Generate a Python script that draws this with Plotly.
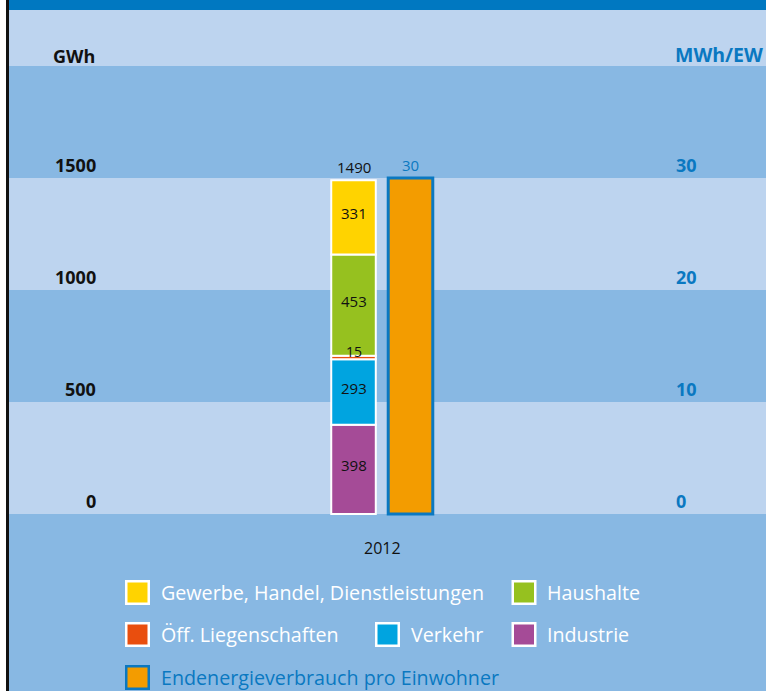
import plotly.graph_objects as go

# ---------------- data ----------------
year = "2012"
sectors = ["Industrie", "Verkehr", "Öff. Liegenschaften", "Haushalte",
           "Gewerbe, Handel, Dienstleistungen"]
gwh = [398, 293, 15, 453, 331]
sector_colors = ["#A54B97", "#00A4E0", "#E94E0E", "#96C11F", "#FFD300"]
per_capita_name = "Endenergieverbrauch pro Einwohner"
mwh_per_ew = [30]
per_capita_color = "#F39C00"
left_ticks = [0, 500, 1000, 1500]
right_ticks = [0, 10, 20, 30]
left_unit = "GWh"
right_unit = "MWh/EW"

# ---------------- style ----------------
W, H = 766, 691
FONT = "Open Sans"
LIGHT = "#BDD4EF"
DARK = "#88B8E3"
BLUE = "#0A78C1"
TEXT_DARK = "#111111"

# axis ranges (0 at 514px, 500 GWh per 112px)
y_per_px = 500 / 112
y_range = [-(H - 514) * y_per_px, 514 * y_per_px]
y2_range = [v / 50 for v in y_range]
x_per_px = 1 / 110
x_range = [-382 * x_per_px, (W - 382) * x_per_px]
bar_w = 0.405
stack_center = -0.259
pc_center = 0.259
small_segment = 50  # segments below this get their label placed above them


def px(x):
    return x / W


def py(y):
    return 1 - y / H


fig = go.Figure()

# stacked sector bar (explicit bases from cumulative sums)
bases = []
acc = 0
for v in gwh:
    bases.append(acc)
    acc += v
total = acc

annotations = []
for i in range(len(gwh)):
    inside = gwh[i] >= small_segment
    fig.add_trace(go.Bar(
        x=[year], y=[gwh[i]], base=[bases[i]], name=sectors[i],
        marker=dict(color=sector_colors[i], line=dict(color="white", width=2)),
        width=[bar_w], offset=[stack_center - bar_w / 2],
        showlegend=False, hoverinfo="skip",
    ))
    if inside:
        annotations.append(dict(x=stack_center, xref="x", y=bases[i] + gwh[i] / 2, yref="y",
                                text=str(gwh[i]), xanchor="center", yanchor="middle",
                                showarrow=False, yshift=4,
                                font=dict(family=FONT, size=15, color=TEXT_DARK)))
    else:
        annotations.append(dict(x=stack_center, xref="x", y=bases[i] + gwh[i], yref="y",
                                text=str(gwh[i]), xanchor="center", yanchor="bottom",
                                showarrow=False, yshift=-7,
                                font=dict(family=FONT, size=14, color=TEXT_DARK)))

fig.add_trace(go.Bar(
    x=[year], y=mwh_per_ew, name=per_capita_name, yaxis="y2",
    marker=dict(color=per_capita_color, line=dict(color=BLUE, width=3)),
    width=[bar_w], offset=[pc_center - bar_w / 2],
    showlegend=False, hoverinfo="skip",
))

shapes = []
# left white strip and black rule
shapes.append(dict(type="rect", xref="paper", yref="paper", x0=0, x1=px(6), y0=0, y1=1,
                   fillcolor="white", line_width=0, layer="below"))
shapes.append(dict(type="rect", xref="paper", yref="paper", x0=px(6), x1=px(9), y0=0, y1=1,
                   fillcolor="#111111", line_width=0, layer="below"))
# horizontal bands
shapes.append(dict(type="rect", xref="paper", yref="y", x0=px(9), x1=1, y0=-1500, y1=0,
                   fillcolor=DARK, line_width=0, layer="below"))
for b in range(0, 5):
    shapes.append(dict(type="rect", xref="paper", yref="y", x0=px(9), x1=1,
                       y0=b * 500, y1=(b + 1) * 500,
                       fillcolor=LIGHT if b % 2 == 0 else DARK, line_width=0, layer="below"))
# top blue band
shapes.append(dict(type="rect", xref="paper", yref="paper", x0=px(9), x1=1, y0=py(10), y1=1,
                   fillcolor="#0078C1", line_width=0, layer="below"))

for t in left_ticks:
    annotations.append(dict(x=px(98), xref="paper", y=t, yref="y", text=f"<b>{t}</b>",
                            xanchor="right", yanchor="bottom", showarrow=False, yshift=-1,
                            font=dict(family=FONT, size=18, color=TEXT_DARK)))
for t in right_ticks:
    annotations.append(dict(x=px(674), xref="paper", y=t, yref="y2", text=f"<b>{t}</b>",
                            xanchor="left", yanchor="bottom", showarrow=False, yshift=-1,
                            font=dict(family=FONT, size=18, color=BLUE)))
annotations.append(dict(x=px(97), xref="paper", y=2000, yref="y", text=f"<b>{left_unit}</b>",
                        xanchor="right", yanchor="bottom", showarrow=False, yshift=-4,
                        font=dict(family=FONT, size=18, color=TEXT_DARK)))
annotations.append(dict(x=px(673), xref="paper", y=40, yref="y2", text=f"<b>{right_unit}</b>",
                        xanchor="left", yanchor="bottom", showarrow=False, yshift=-4,
                        font=dict(family=FONT, size=19.5, color=BLUE)))
# totals above bars
annotations.append(dict(x=stack_center, xref="x", y=total, yref="y", text=str(total),
                        xanchor="center", yanchor="bottom", showarrow=False, yshift=1,
                        font=dict(family=FONT, size=15, color=TEXT_DARK)))
annotations.append(dict(x=pc_center, xref="x", y=mwh_per_ew[0], yref="y2",
                        text=str(mwh_per_ew[0]),
                        xanchor="center", yanchor="bottom", showarrow=False, yshift=1,
                        font=dict(family=FONT, size=15, color=BLUE)))
# category label
annotations.append(dict(x=0, xref="x", y=py(548), yref="paper", text=year,
                        xanchor="center", yanchor="middle", showarrow=False,
                        font=dict(family=FONT, size=16, color=TEXT_DARK)))

# legend (custom layout of swatches + labels)
legend_items = [
    (sectors[4], sector_colors[4], "white", "white", 125, 592.5),
    (sectors[3], sector_colors[3], "white", "white", 511.5, 592.5),
    (sectors[2], sector_colors[2], "white", "white", 125, 634.5),
    (sectors[1], sector_colors[1], "white", "white", 375, 634.5),
    (sectors[0], sector_colors[0], "white", "white", 511.5, 634.5),
    (per_capita_name, per_capita_color, BLUE, BLUE, 125, 677.5),
]
for name, fill, border, tcolor, lx, ly in legend_items:
    shapes.append(dict(type="rect", xref="paper", yref="paper",
                       x0=px(lx + 1.25), x1=px(lx + 23.75),
                       y0=py(ly + 11.25), y1=py(ly - 11.25),
                       fillcolor=fill, line=dict(color=border, width=2.5), layer="above"))
    annotations.append(dict(x=px(lx + 33.5), xref="paper", y=py(ly), yref="paper", text=name,
                            xanchor="left", yanchor="middle", showarrow=False,
                            font=dict(family=FONT, size=19.7, color=tcolor)))

fig.update_layout(
    width=W, height=H,
    margin=dict(l=0, r=0, t=0, b=0),
    paper_bgcolor="white", plot_bgcolor=DARK,
    barmode="overlay",
    showlegend=False,
    xaxis=dict(type="category", range=x_range, visible=False, fixedrange=True),
    yaxis=dict(range=y_range, visible=False, fixedrange=True),
    yaxis2=dict(range=y2_range, overlaying="y", side="right", visible=False, fixedrange=True),
    shapes=shapes,
    annotations=annotations,
    font=dict(family=FONT),
)

fig.write_html("out.html", config={"displayModeBar": False, "staticPlot": True},
               post_script="document.body.style.margin='0';")
